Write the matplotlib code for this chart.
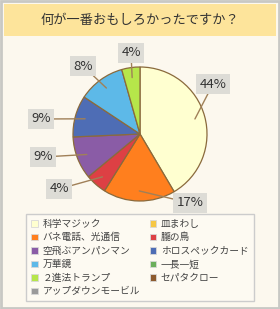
import numpy as np
import matplotlib.pyplot as plt
from matplotlib.patches import Rectangle, Patch

plt.rcParams['font.family'] = ['Noto Sans CJK JP', 'DejaVu Sans']

title = '何が一番おもしろかったですか？'

# legend entries (row order as shown in the image)
names = ['科学マジック', '皿まわし', 'バネ電話、光通信', '朧の鳥',
         '空飛ぶアンパンマン', 'ホロスペックカード', '万華鏡', '一長一短',
         '２進法トランプ', 'セパタクロー', 'アップダウンモービル']
name_colors = ['#FFFFD0', '#F6C744', '#FF7F1E', '#DD4044',
               '#8A5CA6', '#4E6DB5', '#5DB9E8', '#6AAE5C',
               '#B6E64A', '#8C5A2E', '#9A9A9A']

# pie slices (clockwise from top), shares
slice_names = ['科学マジック', 'バネ電話、光通信', '朧の鳥', '空飛ぶアンパンマン',
               'ホロスペックカード', '万華鏡', '２進法トランプ']
shares = [41.5, 17.4, 5.1, 10.3, 10.0, 11.3, 4.4]
slice_labels = ['44%', '17%', '4%', '9%', '9%', '8%', '4%']

# where the label boxes sit (pixels from top-left)
label_pos = [(213, 84), (190, 203), (59, 189), (43, 157), (41, 119), (83, 66), (131, 53)]

W, H = 280, 309
fig = plt.figure(figsize=(W / 100, H / 100), dpi=100)
fig.patch.set_facecolor('#FCF8EE')
ax = fig.add_axes([0, 0, 1, 1])
ax.set_xlim(0, W)
ax.set_ylim(0, H)
ax.axis('off')

# frame and title bar
ax.add_patch(Rectangle((1, 1), W - 2, H - 2, fc='none', ec='#C8C8C4', lw=2))
ax.add_patch(Rectangle((4, H - 36), W - 8, 32, fc='#FDE49B', ec='none'))
ax.text(W / 2, H - 20, title, ha='center', va='center', fontsize=9.5, color='#333333')

cx, cy, r = 140, H - 134, 67
cmap = dict(zip(names, name_colors))
wedges, _ = ax.pie(shares, colors=[cmap[n] for n in slice_names], startangle=90,
                   counterclock=False, center=(cx, cy), radius=r,
                   wedgeprops=dict(edgecolor='#8A6A3C', linewidth=0.9))
ax.set_xlim(0, W)
ax.set_ylim(0, H)
ax.set_aspect('equal')

for w, lab, (lx, ly) in zip(wedges, slice_labels, label_pos):
    a = np.deg2rad((w.theta1 + w.theta2) / 2)
    px, py = cx + 0.85 * r * np.cos(a), cy + 0.85 * r * np.sin(a)
    ax.annotate(lab, xy=(px, py), xytext=(lx, H - ly), ha='center', va='center',
                fontsize=9.5, color='#333333',
                bbox=dict(boxstyle='square,pad=0.25', fc='#DDDCD6', ec='none'),
                arrowprops=dict(arrowstyle='-', color='#A08058', lw=1,
                                shrinkA=0, shrinkB=0))

# legend: two columns, filled column-first
order = list(range(0, 11, 2)) + list(range(1, 11, 2))
handles = [Patch(fc=name_colors[i], ec='#D8D8D8', lw=0.6, label=names[i]) for i in order]
leg = ax.legend(handles=handles, ncol=2, loc='upper center',
                bbox_to_anchor=(0.5, 1 - 214 / H), fontsize=7,
                handlelength=0.65, handleheight=0.65, handletextpad=0.5,
                columnspacing=1.0, labelspacing=0.36, borderpad=0.5,
                borderaxespad=0, fancybox=False, framealpha=1)
leg.get_frame().set_edgecolor('#CCCCCC')
leg.get_frame().set_facecolor('#FDFAF2')
leg.get_frame().set_linewidth(1)
for t in leg.get_texts():
    t.set_color('#444444')

fig.savefig('out.png', dpi=100, facecolor=fig.get_facecolor())
